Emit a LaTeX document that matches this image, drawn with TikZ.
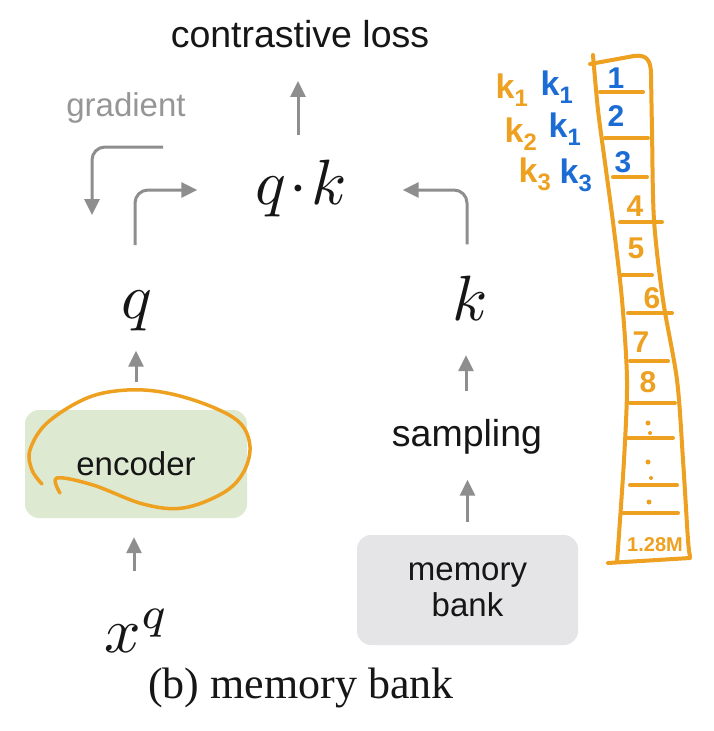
\documentclass[tikz,border=0pt]{standalone}
\usepackage{fontspec}
\setmainfont{Liberation Sans}
\newfontfamily\capfont{Liberation Serif}
\newfontfamily\hand{Liberation Sans}
\usetikzlibrary{arrows.meta,calc}
\definecolor{arrgray}{RGB}{142,142,142}
\definecolor{gradgray}{RGB}{150,150,150}
\definecolor{encfill}{RGB}{221,233,209}
\definecolor{memfill}{RGB}{229,229,231}
\definecolor{hor}{RGB}{238,160,32}
\definecolor{hbl}{RGB}{28,108,214}
\definecolor{txt}{RGB}{22,22,22}
\newcommand{\hugemath}[1]{\scalebox{6.4}{$#1$}}
\tikzset{
  arr/.style={draw=arrgray, line width=3pt, -{Triangle[length=16pt,width=15pt]}, rounded corners=13pt},
  sans/.style={inner sep=0pt, text=txt, font=\fontsize{33}{38}\selectfont},
  bigsans/.style={inner sep=0pt, text=txt, font=\fontsize{37.5}{42}\selectfont},
  mathlbl/.style={inner sep=0pt, anchor=base, text=txt},
  boxnode/.style={rounded corners=14pt, inner sep=0pt, text=txt, font=\fontsize{33}{38}\selectfont, align=center},
  ink/.style={line width=4pt, line cap=round, line join=round},
  handtxt/.style={inner sep=0pt, font=\hand\bfseries\fontsize{30}{32}\selectfont},
  handlbl/.style={inner sep=0pt, font=\hand\bfseries\fontsize{34}{36}\selectfont},
}
\begin{document}
\begin{tikzpicture}[x=1pt,y=-1pt]
\useasboundingbox (0,0) rectangle (713,731);
\fill[white] (0,0) rectangle (713,731);

% nodes
\node[bigsans] (closs) at (300,34) {contrastive loss};
\node[sans, text=gradgray] (grad) at (126,108) {gradient};
\node[mathlbl] (qk) at (301,204) {\hugemath{q\!\cdot\! k}};
\node[mathlbl] (q) at (137,318) {\hugemath{q}};
\node[mathlbl] (k) at (470,320) {\hugemath{k}};
\node[boxnode, fill=encfill, minimum width=222pt, minimum height=108pt] (enc) at (136,464) {encoder};
\node[bigsans] (samp) at (467,437) {sampling};
\node[boxnode, fill=memfill, minimum width=221pt, minimum height=110pt] (mem) at (467.5,590) {memory\\[-2pt]bank};
\node[mathlbl] (xq) at (137,652) {\hugemath{x^q}};
\node[inner sep=0pt, text=txt, font=\capfont\fontsize{44}{48}\selectfont] (cap) at (301,688) {(b) memory bank};

% connectors
\draw[arr] ($(qk.north)+(-3,-24)$) -- ($(qk.north |- closs.south)+(-3,33)$);
\coordinate (gs) at (163,147);
\coordinate (ge) at (92,215);
\draw[arr] (gs) -| (ge);
\draw[arr] ($(q.north)+(-2,-45)$) |- ($(qk.west)+(-58,2)$);
\draw[arr] ($(k.north)+(-3,-31)$) |- ($(qk.east)+(56,2)$);
\draw[arr] ($(enc.north)+(0,-28)$) -- ($(q.south -| enc.north)+(0,20)$);
\draw[arr] ($(xq.north -| enc.south)+(-2,-38)$) -- ($(enc.south)+(-2,19)$);
\draw[arr] ($(samp.north)+(-1,-28)$) -- ($(samp.north |- k.south)+(-1,35)$);
\draw[arr] ($(mem.north)+(0,-13)$) -- ($(mem.north |- samp.south)+(0,25)$);

% orange loop around encoder
\draw[ink, hor, line width=3.5pt] plot[smooth, tension=0.6] coordinates {
 (60,493) (57,478) (93,485) (143,504) (183,508) (223,493) (243,473) (250,447)
 (240,423) (210,406) (167,393) (127,390) (87,398) (47,423) (30,450) (32,470) (42,484)};

% memory column
\draw[ink, hor] plot[smooth, tension=0.5] coordinates {
 (593,55) (598,110) (606,170) (614,230) (622,300) (627,380) (624,460) (617,562)};
\draw[ink, hor] (590,64) -- (634,56) .. controls (648,54) and (651,62) .. (651,75)
  plot[smooth, tension=0.5] coordinates {(651,75) (652,130) (654,220) (663,300) (677,380) (683,460) (688,540) (690,556)};
\draw[ink, hor] (608,563) -- (690,558);
% dividers
\draw[ink, hor] (600,92) -- (643,92);
\draw[ink, hor] (605,138) -- (648,138);
\draw[ink, hor] (613,177) -- (647,177);
\draw[ink, hor] (620,222) -- (662,222);
\draw[ink, hor] (622,275) -- (652,275);
\draw[ink, hor] (628,313) -- (672,313);
\draw[ink, hor] (630,361) -- (668,361);
\draw[ink, hor] (630,403) -- (675,403);
\draw[ink, hor] (628,438) -- (673,438);
\draw[ink, hor] (630,485) -- (677,485);
\draw[ink, hor] (623,513) -- (678,513);
% dots
\fill[hor] (648,423) circle (2.5pt);
\fill[hor] (648,462) circle (2.5pt);
\fill[hor] (649,502) circle (2.5pt);
\fill[hor] (650,433) circle (2pt);
\fill[hor] (651,478) circle (2pt);

% numbers
\node[handtxt, text=hbl] (n1) at (616,78) {1};
\node[handtxt, text=hbl] (n2) at (616,116) {2};
\node[handtxt, text=hbl] (n3) at (623,162) {3};
\node[handtxt, text=hor] (n4) at (635,206) {4};
\node[handtxt, text=hor] (n5) at (636,248) {5};
\node[handtxt, text=hor] (n6) at (652,298) {6};
\node[handtxt, text=hor] (n7) at (641,342) {7};
\node[handtxt, text=hor] (n8) at (648,382) {8};
\node[handtxt, text=hor, font=\hand\bfseries\fontsize{20}{22}\selectfont] (nm) at (655,545) {1.28M};

% key labels
\node[handlbl, text=hor] (o1) at (512,90) {k\textsubscript{1}};
\node[handlbl, text=hbl] (b1) at (557,87) {k\textsubscript{1}};
\node[handlbl, text=hor] (o2) at (521,134) {k\textsubscript{2}};
\node[handlbl, text=hbl] (b2) at (565,129) {k\textsubscript{1}};
\node[handlbl, text=hor] (o3) at (535,174) {k\textsubscript{3}};
\node[handlbl, text=hbl] (b3) at (576,175) {k\textsubscript{3}};
\end{tikzpicture}
\end{document}
